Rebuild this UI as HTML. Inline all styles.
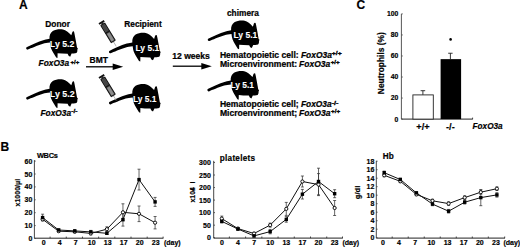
<!DOCTYPE html><html><head><meta charset="utf-8"><style>html,body{margin:0;padding:0;background:#fff;}svg{display:block;}text{font-family:"Liberation Sans", sans-serif;}</style></head><body>
<svg width="520" height="247" viewBox="0 0 520 247">
<rect width="520" height="247" fill="#fff"/>
<text x="18.9" y="8.6" font-size="12" font-weight="bold" font-style="normal" text-anchor="start" fill="#000"  stroke="#000" stroke-width="0.18">A</text>
<text x="45.21" y="27" font-size="8.6" font-weight="bold" font-style="normal" fill="#000" textLength="24.70" lengthAdjust="spacingAndGlyphs" stroke="#000" stroke-width="0.22">Donor</text>
<text x="124.32" y="27" font-size="8.6" font-weight="bold" font-style="normal" fill="#000" textLength="37.39" lengthAdjust="spacingAndGlyphs" stroke="#000" stroke-width="0.22">Recipient</text>
<text x="227.01" y="16" font-size="8.6" font-weight="bold" font-style="normal" fill="#000" textLength="31.88" lengthAdjust="spacingAndGlyphs" stroke="#000" stroke-width="0.22">chimera</text>
<path transform="translate(0 0)" d="M26.5 47.3 C31 45 38 41.8 44 40.0 C46.5 39.3 48 39.0 49.5 38.8 C49.2 35.4 50.4 32.6 52.8 30.9 C55.6 29.3 59.6 28.9 63.0 29.4 C65.8 30.0 68.6 32.4 71.3 35.3 L72.3 32.2 Q73.0 30.9 74.0 31.6 L74.6 34.2 L75.2 37.4 C75.7 39.8 76.1 42 76.4 44 L77.0 47.5 L77.9 48.4 L77.4 49.6 L77.3 51.5 L76.5 53.1 C74.5 53.6 72.8 53.6 71.6 53.6 L70.2 56.7 L68.6 55.8 L67.6 53.8 L62 53.6 L57.6 53.3 L57.5 57.9 L56.2 57.4 C54.4 54.5 52.4 51.4 51.0 48.2 C50.4 46.4 50.0 44.6 49.9 42.6 C47 42.8 45 43.2 43 43.8 C37 45.7 31 48.3 27.8 49.6 C26.4 50.1 25.7 48.1 26.5 47.3 Z" fill="#000"/>
<text x="49.89" y="46.9" font-size="8.6" font-weight="bold" font-style="normal" fill="#fff" textLength="24.48" lengthAdjust="spacingAndGlyphs" stroke="#fff" stroke-width="0.08">Ly 5.2</text>
<path transform="translate(0 50)" d="M26.5 47.3 C31 45 38 41.8 44 40.0 C46.5 39.3 48 39.0 49.5 38.8 C49.2 35.4 50.4 32.6 52.8 30.9 C55.6 29.3 59.6 28.9 63.0 29.4 C65.8 30.0 68.6 32.4 71.3 35.3 L72.3 32.2 Q73.0 30.9 74.0 31.6 L74.6 34.2 L75.2 37.4 C75.7 39.8 76.1 42 76.4 44 L77.0 47.5 L77.9 48.4 L77.4 49.6 L77.3 51.5 L76.5 53.1 C74.5 53.6 72.8 53.6 71.6 53.6 L70.2 56.7 L68.6 55.8 L67.6 53.8 L62 53.6 L57.6 53.3 L57.5 57.9 L56.2 57.4 C54.4 54.5 52.4 51.4 51.0 48.2 C50.4 46.4 50.0 44.6 49.9 42.6 C47 42.8 45 43.2 43 43.8 C37 45.7 31 48.3 27.8 49.6 C26.4 50.1 25.7 48.1 26.5 47.3 Z" fill="#000"/>
<text x="49.88" y="97.3" font-size="8.6" font-weight="bold" font-style="normal" fill="#fff" textLength="24.79" lengthAdjust="spacingAndGlyphs" stroke="#fff" stroke-width="0.08">Ly 5.2</text>
<path transform="translate(82.8 3.6)" d="M26.5 47.3 C31 45 38 41.8 44 40.0 C46.5 39.3 48 39.0 49.5 38.8 C49.2 35.4 50.4 32.6 52.8 30.9 C55.6 29.3 59.6 28.9 63.0 29.4 C65.8 30.0 68.6 32.4 71.3 35.3 L72.3 32.2 Q73.0 30.9 74.0 31.6 L74.6 34.2 L75.2 37.4 C75.7 39.8 76.1 42 76.4 44 L77.0 47.5 L77.9 48.4 L77.4 49.6 L77.3 51.5 L76.5 53.1 C74.5 53.6 72.8 53.6 71.6 53.6 L70.2 56.7 L68.6 55.8 L67.6 53.8 L62 53.6 L57.6 53.3 L57.5 57.9 L56.2 57.4 C54.4 54.5 52.4 51.4 51.0 48.2 C50.4 46.4 50.0 44.6 49.9 42.6 C47 42.8 45 43.2 43 43.8 C37 45.7 31 48.3 27.8 49.6 C26.4 50.1 25.7 48.1 26.5 47.3 Z" fill="#000"/>
<text x="135.41" y="50.7" font-size="8.6" font-weight="bold" font-style="normal" fill="#fff" textLength="23.86" lengthAdjust="spacingAndGlyphs" stroke="#fff" stroke-width="0.08">Ly 5.1</text>
<path transform="translate(82.8 54.8)" d="M26.5 47.3 C31 45 38 41.8 44 40.0 C46.5 39.3 48 39.0 49.5 38.8 C49.2 35.4 50.4 32.6 52.8 30.9 C55.6 29.3 59.6 28.9 63.0 29.4 C65.8 30.0 68.6 32.4 71.3 35.3 L72.3 32.2 Q73.0 30.9 74.0 31.6 L74.6 34.2 L75.2 37.4 C75.7 39.8 76.1 42 76.4 44 L77.0 47.5 L77.9 48.4 L77.4 49.6 L77.3 51.5 L76.5 53.1 C74.5 53.6 72.8 53.6 71.6 53.6 L70.2 56.7 L68.6 55.8 L67.6 53.8 L62 53.6 L57.6 53.3 L57.5 57.9 L56.2 57.4 C54.4 54.5 52.4 51.4 51.0 48.2 C50.4 46.4 50.0 44.6 49.9 42.6 C47 42.8 45 43.2 43 43.8 C37 45.7 31 48.3 27.8 49.6 C26.4 50.1 25.7 48.1 26.5 47.3 Z" fill="#000"/>
<text x="132.91" y="101.9" font-size="8.6" font-weight="bold" font-style="normal" fill="#fff" textLength="23.65" lengthAdjust="spacingAndGlyphs" stroke="#fff" stroke-width="0.08">Ly 5.1</text>
<path transform="translate(181.6 -8.6)" d="M26.5 47.3 C31 45 38 41.8 44 40.0 C46.5 39.3 48 39.0 49.5 38.8 C49.2 35.4 50.4 32.6 52.8 30.9 C55.6 29.3 59.6 28.9 63.0 29.4 C65.8 30.0 68.6 32.4 71.3 35.3 L72.3 32.2 Q73.0 30.9 74.0 31.6 L74.6 34.2 L75.2 37.4 C75.7 39.8 76.1 42 76.4 44 L77.0 47.5 L77.9 48.4 L77.4 49.6 L77.3 51.5 L76.5 53.1 C74.5 53.6 72.8 53.6 71.6 53.6 L70.2 56.7 L68.6 55.8 L67.6 53.8 L62 53.6 L57.6 53.3 L57.5 57.9 L56.2 57.4 C54.4 54.5 52.4 51.4 51.0 48.2 C50.4 46.4 50.0 44.6 49.9 42.6 C47 42.8 45 43.2 43 43.8 C37 45.7 31 48.3 27.8 49.6 C26.4 50.1 25.7 48.1 26.5 47.3 Z" fill="#000"/>
<text x="233.40" y="38.1" font-size="8.6" font-weight="bold" font-style="normal" fill="#fff" textLength="23.96" lengthAdjust="spacingAndGlyphs" stroke="#fff" stroke-width="0.08">Ly 5.1</text>
<path transform="translate(181.2 41.8)" d="M26.5 47.3 C31 45 38 41.8 44 40.0 C46.5 39.3 48 39.0 49.5 38.8 C49.2 35.4 50.4 32.6 52.8 30.9 C55.6 29.3 59.6 28.9 63.0 29.4 C65.8 30.0 68.6 32.4 71.3 35.3 L72.3 32.2 Q73.0 30.9 74.0 31.6 L74.6 34.2 L75.2 37.4 C75.7 39.8 76.1 42 76.4 44 L77.0 47.5 L77.9 48.4 L77.4 49.6 L77.3 51.5 L76.5 53.1 C74.5 53.6 72.8 53.6 71.6 53.6 L70.2 56.7 L68.6 55.8 L67.6 53.8 L62 53.6 L57.6 53.3 L57.5 57.9 L56.2 57.4 C54.4 54.5 52.4 51.4 51.0 48.2 C50.4 46.4 50.0 44.6 49.9 42.6 C47 42.8 45 43.2 43 43.8 C37 45.7 31 48.3 27.8 49.6 C26.4 50.1 25.7 48.1 26.5 47.3 Z" fill="#000"/>
<text x="230.41" y="88.1" font-size="8.6" font-weight="bold" font-style="normal" fill="#fff" textLength="23.65" lengthAdjust="spacingAndGlyphs" stroke="#fff" stroke-width="0.08">Ly 5.1</text>
<text x="38.61" y="65.9" font-size="8.6" font-weight="bold" font-style="italic" fill="#000" textLength="30.53" lengthAdjust="spacingAndGlyphs" stroke="#000" stroke-width="0.22">FoxO3a</text>
<text x="70.51" y="63.5" font-size="6.2" font-weight="bold" font-style="normal" fill="#000" textLength="8.75" lengthAdjust="spacingAndGlyphs" stroke="#000" stroke-width="0.35">+/+</text>
<text x="40.51" y="115.9" font-size="8.6" font-weight="bold" font-style="italic" fill="#000" textLength="30.53" lengthAdjust="spacingAndGlyphs" stroke="#000" stroke-width="0.22">FoxO3a</text>
<text x="71.39" y="113.3" font-size="6.2" font-weight="bold" font-style="normal" fill="#000" textLength="6.18" lengthAdjust="spacingAndGlyphs" stroke="#000" stroke-width="0.35">-/-</text>
<g transform="translate(101.6 22.4) rotate(58.5)">
<rect x="-0.9" y="-3.1" width="1.9" height="6.2" fill="#111"/>
<rect x="0.9" y="-1.3" width="1.5" height="2.6" fill="#222"/>
<rect x="2.4" y="-2.3" width="19.8" height="4.6" fill="#5a5a5a" stroke="#141414" stroke-width="1"/>
<rect x="3" y="-1.6" width="7.6" height="3.2" fill="#444"/>
<rect x="10.6" y="-2.3" width="1.6" height="4.6" fill="#181818"/>
<rect x="12.8" y="-1.4" width="8.6" height="2.8" fill="#8c8c8c"/>
<rect x="22.2" y="-0.9" width="0.9" height="1.8" fill="#333"/>
<rect x="23.1" y="-0.4" width="5.0" height="0.8" fill="#a8a8a8"/>
</g>
<g transform="translate(101.6 76.4) rotate(58.5)">
<rect x="-0.9" y="-3.1" width="1.9" height="6.2" fill="#111"/>
<rect x="0.9" y="-1.3" width="1.5" height="2.6" fill="#222"/>
<rect x="2.4" y="-2.3" width="19.8" height="4.6" fill="#5a5a5a" stroke="#141414" stroke-width="1"/>
<rect x="3" y="-1.6" width="7.6" height="3.2" fill="#444"/>
<rect x="10.6" y="-2.3" width="1.6" height="4.6" fill="#181818"/>
<rect x="12.8" y="-1.4" width="8.6" height="2.8" fill="#8c8c8c"/>
<rect x="22.2" y="-0.9" width="0.9" height="1.8" fill="#333"/>
<rect x="23.1" y="-0.4" width="5.0" height="0.8" fill="#a8a8a8"/>
</g>
<text x="89.61" y="63.1" font-size="8.6" font-weight="bold" font-style="normal" fill="#000" textLength="18.42" lengthAdjust="spacingAndGlyphs" stroke="#000" stroke-width="0.22">BMT</text>
<line x1="86" y1="66.8" x2="113.7" y2="66.8" stroke="#000" stroke-width="1.3"/>
<path d="M123.2 66.8 L112.7 63.599999999999994 L112.7 70.0 Z" fill="#000"/>
<text x="172.30" y="59.2" font-size="8.6" font-weight="bold" font-style="normal" fill="#000" textLength="37.57" lengthAdjust="spacingAndGlyphs" stroke="#000" stroke-width="0.22">12 weeks</text>
<line x1="172.8" y1="66.2" x2="202.3" y2="66.2" stroke="#000" stroke-width="1.3"/>
<path d="M211.8 66.2 L201.3 63.0 L201.3 69.4 Z" fill="#000"/>
<text x="219.90" y="58" font-size="8.6" font-weight="bold" font-style="normal" fill="#000" textLength="78.75" lengthAdjust="spacingAndGlyphs" stroke="#000" stroke-width="0.22">Hematopoietic cell:</text>
<text x="219.90" y="67" font-size="8.6" font-weight="bold" font-style="normal" fill="#000" textLength="77.31" lengthAdjust="spacingAndGlyphs" stroke="#000" stroke-width="0.22">Microenvironment:</text>
<text x="219.90" y="107" font-size="8.6" font-weight="bold" font-style="normal" fill="#000" textLength="78.75" lengthAdjust="spacingAndGlyphs" stroke="#000" stroke-width="0.22">Hematopoietic cell;</text>
<text x="219.90" y="116" font-size="8.6" font-weight="bold" font-style="normal" fill="#000" textLength="77.31" lengthAdjust="spacingAndGlyphs" stroke="#000" stroke-width="0.22">Microenvironment;</text>
<text x="300.90" y="58" font-size="8.6" font-weight="bold" font-style="italic" fill="#000" textLength="30.94" lengthAdjust="spacingAndGlyphs" stroke="#000" stroke-width="0.22">FoxO3a</text>
<text x="299.10" y="67" font-size="8.6" font-weight="bold" font-style="italic" fill="#000" textLength="31.14" lengthAdjust="spacingAndGlyphs" stroke="#000" stroke-width="0.22">FoxO3a</text>
<text x="300.91" y="107" font-size="8.6" font-weight="bold" font-style="italic" fill="#000" textLength="30.73" lengthAdjust="spacingAndGlyphs" stroke="#000" stroke-width="0.22">FoxO3a</text>
<text x="299.10" y="116" font-size="8.6" font-weight="bold" font-style="italic" fill="#000" textLength="31.44" lengthAdjust="spacingAndGlyphs" stroke="#000" stroke-width="0.22">FoxO3a</text>
<text x="331.87" y="54.8" font-size="6.2" font-weight="bold" font-style="normal" fill="#000" textLength="9.92" lengthAdjust="spacingAndGlyphs" stroke="#000" stroke-width="0.35">+/+</text>
<text x="330.70" y="64.3" font-size="6.2" font-weight="bold" font-style="normal" fill="#000" textLength="9.07" lengthAdjust="spacingAndGlyphs" stroke="#000" stroke-width="0.35">+/+</text>
<text x="331.67" y="105.2" font-size="6.2" font-weight="bold" font-style="normal" fill="#000" textLength="6.83" lengthAdjust="spacingAndGlyphs" stroke="#000" stroke-width="0.35">-/-</text>
<text x="331.00" y="113.2" font-size="6.2" font-weight="bold" font-style="normal" fill="#000" textLength="9.07" lengthAdjust="spacingAndGlyphs" stroke="#000" stroke-width="0.35">+/+</text>
<text x="356.6" y="8.6" font-size="12" font-weight="bold" font-style="normal" text-anchor="start" fill="#000"  stroke="#000" stroke-width="0.18">C</text>
<line x1="401.4" y1="13.899999999999991" x2="401.4" y2="119.1" stroke="#444" stroke-width="0.9"/>
<line x1="401.4" y1="119.1" x2="472.8" y2="119.1" stroke="#222" stroke-width="1"/>
<line x1="472.6" y1="119.1" x2="472.6" y2="117.6" stroke="#222" stroke-width="0.8"/>
<line x1="401.4" y1="119.10" x2="402.79999999999995" y2="119.10" stroke="#444" stroke-width="0.8"/>
<text x="398.3" y="121.50" font-size="6.8" font-weight="bold" font-style="normal" text-anchor="end" fill="#000"  stroke="#000" stroke-width="0.18">0</text>
<line x1="401.4" y1="98.06" x2="402.79999999999995" y2="98.06" stroke="#444" stroke-width="0.8"/>
<text x="398.3" y="100.46" font-size="6.8" font-weight="bold" font-style="normal" text-anchor="end" fill="#000"  stroke="#000" stroke-width="0.18">20</text>
<line x1="401.4" y1="77.02" x2="402.79999999999995" y2="77.02" stroke="#444" stroke-width="0.8"/>
<text x="398.3" y="79.42" font-size="6.8" font-weight="bold" font-style="normal" text-anchor="end" fill="#000"  stroke="#000" stroke-width="0.18">40</text>
<line x1="401.4" y1="55.98" x2="402.79999999999995" y2="55.98" stroke="#444" stroke-width="0.8"/>
<text x="398.3" y="58.38" font-size="6.8" font-weight="bold" font-style="normal" text-anchor="end" fill="#000"  stroke="#000" stroke-width="0.18">60</text>
<line x1="401.4" y1="34.94" x2="402.79999999999995" y2="34.94" stroke="#444" stroke-width="0.8"/>
<text x="398.3" y="37.34" font-size="6.8" font-weight="bold" font-style="normal" text-anchor="end" fill="#000"  stroke="#000" stroke-width="0.18">80</text>
<line x1="401.4" y1="13.90" x2="402.79999999999995" y2="13.90" stroke="#444" stroke-width="0.8"/>
<text x="398.3" y="16.30" font-size="6.8" font-weight="bold" font-style="normal" text-anchor="end" fill="#000"  stroke="#000" stroke-width="0.18">100</text>
<line x1="422.9" y1="90.70" x2="422.9" y2="94.90" stroke="#222" stroke-width="0.9"/>
<line x1="420.6" y1="90.70" x2="425.2" y2="90.70" stroke="#222" stroke-width="0.9"/>
<rect x="412.9" y="94.90" width="20.4" height="24.20" fill="#fff" stroke="#222" stroke-width="0.9"/>
<line x1="450.4" y1="53.24" x2="450.4" y2="59.14" stroke="#222" stroke-width="0.9"/>
<line x1="448.2" y1="53.24" x2="452.6" y2="53.24" stroke="#222" stroke-width="0.9"/>
<rect x="440.6" y="59.14" width="20.5" height="59.96" fill="#000"/>
<circle cx="450.6" cy="39.4" r="1.3" fill="#000"/>
<text x="423.0" y="130.2" font-size="9.2" font-weight="bold" font-style="normal" text-anchor="middle" fill="#000"  stroke="#000" stroke-width="0.18">+/+</text>
<text x="450.4" y="130.2" font-size="9.2" font-weight="bold" font-style="normal" text-anchor="middle" fill="#000"  stroke="#000" stroke-width="0.18">-/-</text>
<text x="472.6" y="129.1" font-size="8.2" font-weight="bold" font-style="italic" text-anchor="start" fill="#000"  stroke="#000" stroke-width="0.18">FoxO3a</text>
<text transform="translate(383.6 63.2) rotate(-90)" font-size="8.4" font-weight="bold" text-anchor="middle" stroke="#000" stroke-width="0.2">Neutrophils (%)</text>
<text x="0.6" y="150.7" font-size="12" font-weight="bold" font-style="normal" text-anchor="start" fill="#000"  stroke="#000" stroke-width="0.18">B</text>
<line x1="34.4" y1="160.1" x2="34.4" y2="238.2" stroke="#333" stroke-width="0.9"/>
<line x1="34.4" y1="238.2" x2="163.4" y2="238.2" stroke="#222" stroke-width="1"/>
<line x1="34.4" y1="238.50" x2="35.699999999999996" y2="238.50" stroke="#333" stroke-width="0.8"/>
<text x="32.40" y="241.00" font-size="7" font-weight="bold" font-style="normal" text-anchor="end" fill="#000"  stroke="#000" stroke-width="0.18">0</text>
<line x1="34.4" y1="225.60" x2="35.699999999999996" y2="225.60" stroke="#333" stroke-width="0.8"/>
<text x="32.40" y="228.10" font-size="7" font-weight="bold" font-style="normal" text-anchor="end" fill="#000"  stroke="#000" stroke-width="0.18">10</text>
<line x1="34.4" y1="212.70" x2="35.699999999999996" y2="212.70" stroke="#333" stroke-width="0.8"/>
<text x="32.40" y="215.20" font-size="7" font-weight="bold" font-style="normal" text-anchor="end" fill="#000"  stroke="#000" stroke-width="0.18">20</text>
<line x1="34.4" y1="199.80" x2="35.699999999999996" y2="199.80" stroke="#333" stroke-width="0.8"/>
<text x="32.40" y="202.30" font-size="7" font-weight="bold" font-style="normal" text-anchor="end" fill="#000"  stroke="#000" stroke-width="0.18">30</text>
<line x1="34.4" y1="186.90" x2="35.699999999999996" y2="186.90" stroke="#333" stroke-width="0.8"/>
<text x="32.40" y="189.40" font-size="7" font-weight="bold" font-style="normal" text-anchor="end" fill="#000"  stroke="#000" stroke-width="0.18">40</text>
<line x1="34.4" y1="174.00" x2="35.699999999999996" y2="174.00" stroke="#333" stroke-width="0.8"/>
<text x="32.40" y="176.50" font-size="7" font-weight="bold" font-style="normal" text-anchor="end" fill="#000"  stroke="#000" stroke-width="0.18">50</text>
<line x1="34.4" y1="161.10" x2="35.699999999999996" y2="161.10" stroke="#333" stroke-width="0.8"/>
<text x="32.40" y="163.60" font-size="7" font-weight="bold" font-style="normal" text-anchor="end" fill="#000"  stroke="#000" stroke-width="0.18">60</text>
<line x1="50.10" y1="238.2" x2="50.10" y2="236.6" stroke="#222" stroke-width="0.8"/>
<text x="43.70" y="245.1" font-size="7" font-weight="bold" font-style="normal" text-anchor="middle" fill="#000"  stroke="#000" stroke-width="0.18">0</text>
<line x1="66.28" y1="238.2" x2="66.28" y2="236.6" stroke="#222" stroke-width="0.8"/>
<text x="59.70" y="245.1" font-size="7" font-weight="bold" font-style="normal" text-anchor="middle" fill="#000"  stroke="#000" stroke-width="0.18">4</text>
<line x1="82.46" y1="238.2" x2="82.46" y2="236.6" stroke="#222" stroke-width="0.8"/>
<text x="75.70" y="245.1" font-size="7" font-weight="bold" font-style="normal" text-anchor="middle" fill="#000"  stroke="#000" stroke-width="0.18">7</text>
<line x1="98.64" y1="238.2" x2="98.64" y2="236.6" stroke="#222" stroke-width="0.8"/>
<text x="91.70" y="245.1" font-size="7" font-weight="bold" font-style="normal" text-anchor="middle" fill="#000"  stroke="#000" stroke-width="0.18">10</text>
<line x1="114.82" y1="238.2" x2="114.82" y2="236.6" stroke="#222" stroke-width="0.8"/>
<text x="107.70" y="245.1" font-size="7" font-weight="bold" font-style="normal" text-anchor="middle" fill="#000"  stroke="#000" stroke-width="0.18">13</text>
<line x1="131.00" y1="238.2" x2="131.00" y2="236.6" stroke="#222" stroke-width="0.8"/>
<text x="123.70" y="245.1" font-size="7" font-weight="bold" font-style="normal" text-anchor="middle" fill="#000"  stroke="#000" stroke-width="0.18">17</text>
<line x1="147.18" y1="238.2" x2="147.18" y2="236.6" stroke="#222" stroke-width="0.8"/>
<text x="139.70" y="245.1" font-size="7" font-weight="bold" font-style="normal" text-anchor="middle" fill="#000"  stroke="#000" stroke-width="0.18">20</text>
<line x1="163.10" y1="238.2" x2="163.10" y2="236.6" stroke="#222" stroke-width="0.8"/>
<text x="155.70" y="245.1" font-size="7" font-weight="bold" font-style="normal" text-anchor="middle" fill="#000"  stroke="#000" stroke-width="0.18">23</text>
<text x="163.9" y="245.1" font-size="7" font-weight="bold" font-style="normal" text-anchor="start" fill="#000"  stroke="#000" stroke-width="0.18">(day)</text>
<text x="36.9" y="157.5" font-size="7.4" font-weight="bold" font-style="normal" text-anchor="start" fill="#000" letter-spacing="-0.25" stroke="#000" stroke-width="0.18">WBCs</text>
<text transform="translate(20.1 192.6) rotate(-90)" font-size="7" font-weight="bold" text-anchor="middle" stroke="#000" stroke-width="0.15">x1000/μl</text>
<polyline points="42.60,219.3 58.67,231.2 74.74,231.8 90.81,233.4 106.88,229.2 122.95,212.3 139.02,213.8 155.09,222.7" fill="none" stroke="#111" stroke-width="1.0"/>
<polyline points="42.60,217.6 58.67,230.0 74.74,230.9 90.81,231.9 106.88,233.3 122.95,219.6 139.02,179.6 155.09,201.9" fill="none" stroke="#111" stroke-width="1.0"/>
<path d="M42.60 218.30V220.30M41.10 218.30H44.10M41.10 220.30H44.10" stroke="#333" stroke-width="0.75" fill="none"/>
<path d="M58.67 230.20V232.20M57.17 230.20H60.17M57.17 232.20H60.17" stroke="#333" stroke-width="0.75" fill="none"/>
<path d="M74.74 230.80V232.80M73.24 230.80H76.24M73.24 232.80H76.24" stroke="#333" stroke-width="0.75" fill="none"/>
<path d="M90.81 231.90V234.90M89.31 231.90H92.31M89.31 234.90H92.31" stroke="#333" stroke-width="0.75" fill="none"/>
<path d="M106.88 226.80V231.60M105.38 226.80H108.38M105.38 231.60H108.38" stroke="#333" stroke-width="0.75" fill="none"/>
<path d="M122.95 203.80V220.80M121.45 203.80H124.45M121.45 220.80H124.45" stroke="#333" stroke-width="0.75" fill="none"/>
<path d="M139.02 206.00V221.60M137.52 206.00H140.52M137.52 221.60H140.52" stroke="#333" stroke-width="0.75" fill="none"/>
<path d="M155.09 216.50V228.90M153.59 216.50H156.59M153.59 228.90H156.59" stroke="#333" stroke-width="0.75" fill="none"/>
<path d="M42.60 214.20V221.00M41.10 214.20H44.10M41.10 221.00H44.10" stroke="#333" stroke-width="0.75" fill="none"/>
<path d="M58.67 228.80V231.20M57.17 228.80H60.17M57.17 231.20H60.17" stroke="#333" stroke-width="0.75" fill="none"/>
<path d="M74.74 229.90V231.90M73.24 229.90H76.24M73.24 231.90H76.24" stroke="#333" stroke-width="0.75" fill="none"/>
<path d="M90.81 230.40V233.40M89.31 230.40H92.31M89.31 233.40H92.31" stroke="#333" stroke-width="0.75" fill="none"/>
<path d="M106.88 232.10V234.50M105.38 232.10H108.38M105.38 234.50H108.38" stroke="#333" stroke-width="0.75" fill="none"/>
<path d="M122.95 213.10V226.10M121.45 213.10H124.45M121.45 226.10H124.45" stroke="#333" stroke-width="0.75" fill="none"/>
<path d="M139.02 169.20V190.00M137.52 169.20H140.52M137.52 190.00H140.52" stroke="#333" stroke-width="0.75" fill="none"/>
<path d="M155.09 197.40V206.40M153.59 197.40H156.59M153.59 206.40H156.59" stroke="#333" stroke-width="0.75" fill="none"/>
<circle cx="42.60" cy="219.3" r="1.6" fill="#fff" stroke="#000" stroke-width="0.9"/>
<circle cx="58.67" cy="231.2" r="1.6" fill="#fff" stroke="#000" stroke-width="0.9"/>
<circle cx="74.74" cy="231.8" r="1.6" fill="#fff" stroke="#000" stroke-width="0.9"/>
<circle cx="90.81" cy="233.4" r="1.6" fill="#fff" stroke="#000" stroke-width="0.9"/>
<circle cx="106.88" cy="229.2" r="1.6" fill="#fff" stroke="#000" stroke-width="0.9"/>
<circle cx="122.95" cy="212.3" r="1.6" fill="#fff" stroke="#000" stroke-width="0.9"/>
<circle cx="139.02" cy="213.8" r="1.6" fill="#fff" stroke="#000" stroke-width="0.9"/>
<circle cx="155.09" cy="222.7" r="1.6" fill="#fff" stroke="#000" stroke-width="0.9"/>
<rect x="40.90" y="215.90" width="3.4" height="3.4" fill="#000"/>
<rect x="56.97" y="228.30" width="3.4" height="3.4" fill="#000"/>
<rect x="73.04" y="229.20" width="3.4" height="3.4" fill="#000"/>
<rect x="89.11" y="230.20" width="3.4" height="3.4" fill="#000"/>
<rect x="105.18" y="231.60" width="3.4" height="3.4" fill="#000"/>
<rect x="121.25" y="217.90" width="3.4" height="3.4" fill="#000"/>
<rect x="137.32" y="177.90" width="3.4" height="3.4" fill="#000"/>
<rect x="153.39" y="200.20" width="3.4" height="3.4" fill="#000"/>
<line x1="213.7" y1="160.8" x2="213.7" y2="238.1" stroke="#333" stroke-width="0.9"/>
<line x1="213.7" y1="238.1" x2="342.8" y2="238.1" stroke="#222" stroke-width="1"/>
<line x1="213.7" y1="237.70" x2="215.0" y2="237.70" stroke="#333" stroke-width="0.8"/>
<text x="210.80" y="240.20" font-size="7" font-weight="bold" font-style="normal" text-anchor="end" fill="#000"  stroke="#000" stroke-width="0.18">0</text>
<line x1="213.7" y1="225.16" x2="215.0" y2="225.16" stroke="#333" stroke-width="0.8"/>
<text x="210.80" y="227.66" font-size="7" font-weight="bold" font-style="normal" text-anchor="end" fill="#000"  stroke="#000" stroke-width="0.18">50</text>
<line x1="213.7" y1="212.63" x2="215.0" y2="212.63" stroke="#333" stroke-width="0.8"/>
<text x="210.80" y="215.13" font-size="7" font-weight="bold" font-style="normal" text-anchor="end" fill="#000"  stroke="#000" stroke-width="0.18">100</text>
<line x1="213.7" y1="200.09" x2="215.0" y2="200.09" stroke="#333" stroke-width="0.8"/>
<text x="210.80" y="202.59" font-size="7" font-weight="bold" font-style="normal" text-anchor="end" fill="#000"  stroke="#000" stroke-width="0.18">150</text>
<line x1="213.7" y1="187.56" x2="215.0" y2="187.56" stroke="#333" stroke-width="0.8"/>
<text x="210.80" y="190.06" font-size="7" font-weight="bold" font-style="normal" text-anchor="end" fill="#000"  stroke="#000" stroke-width="0.18">200</text>
<line x1="213.7" y1="175.02" x2="215.0" y2="175.02" stroke="#333" stroke-width="0.8"/>
<text x="210.80" y="177.52" font-size="7" font-weight="bold" font-style="normal" text-anchor="end" fill="#000"  stroke="#000" stroke-width="0.18">250</text>
<line x1="213.7" y1="162.49" x2="215.0" y2="162.49" stroke="#333" stroke-width="0.8"/>
<text x="210.80" y="164.99" font-size="7" font-weight="bold" font-style="normal" text-anchor="end" fill="#000"  stroke="#000" stroke-width="0.18">300</text>
<line x1="229.40" y1="238.1" x2="229.40" y2="236.5" stroke="#222" stroke-width="0.8"/>
<text x="221.90" y="245.1" font-size="7" font-weight="bold" font-style="normal" text-anchor="middle" fill="#000"  stroke="#000" stroke-width="0.18">0</text>
<line x1="245.62" y1="238.1" x2="245.62" y2="236.5" stroke="#222" stroke-width="0.8"/>
<text x="238.00" y="245.1" font-size="7" font-weight="bold" font-style="normal" text-anchor="middle" fill="#000"  stroke="#000" stroke-width="0.18">4</text>
<line x1="261.84" y1="238.1" x2="261.84" y2="236.5" stroke="#222" stroke-width="0.8"/>
<text x="254.10" y="245.1" font-size="7" font-weight="bold" font-style="normal" text-anchor="middle" fill="#000"  stroke="#000" stroke-width="0.18">7</text>
<line x1="278.06" y1="238.1" x2="278.06" y2="236.5" stroke="#222" stroke-width="0.8"/>
<text x="270.20" y="245.1" font-size="7" font-weight="bold" font-style="normal" text-anchor="middle" fill="#000"  stroke="#000" stroke-width="0.18">10</text>
<line x1="294.28" y1="238.1" x2="294.28" y2="236.5" stroke="#222" stroke-width="0.8"/>
<text x="286.30" y="245.1" font-size="7" font-weight="bold" font-style="normal" text-anchor="middle" fill="#000"  stroke="#000" stroke-width="0.18">13</text>
<line x1="310.50" y1="238.1" x2="310.50" y2="236.5" stroke="#222" stroke-width="0.8"/>
<text x="302.40" y="245.1" font-size="7" font-weight="bold" font-style="normal" text-anchor="middle" fill="#000"  stroke="#000" stroke-width="0.18">17</text>
<line x1="326.72" y1="238.1" x2="326.72" y2="236.5" stroke="#222" stroke-width="0.8"/>
<text x="318.50" y="245.1" font-size="7" font-weight="bold" font-style="normal" text-anchor="middle" fill="#000"  stroke="#000" stroke-width="0.18">20</text>
<line x1="342.50" y1="238.1" x2="342.50" y2="236.5" stroke="#222" stroke-width="0.8"/>
<text x="334.60" y="245.1" font-size="7" font-weight="bold" font-style="normal" text-anchor="middle" fill="#000"  stroke="#000" stroke-width="0.18">23</text>
<text x="342.4" y="245.1" font-size="7" font-weight="bold" font-style="normal" text-anchor="start" fill="#000"  stroke="#000" stroke-width="0.18">(day)</text>
<text x="219.8" y="160.8" font-size="8.2" font-weight="bold" font-style="normal" text-anchor="start" fill="#000" letter-spacing="0.25" stroke="#000" stroke-width="0.18">platelets</text>
<text transform="translate(194.6 202.6) rotate(-90)" font-size="7" font-weight="bold" stroke="#000" stroke-width="0.15">x10<tspan>4</tspan><tspan dx="-3.6">/</tspan><tspan dx="5.2">l</tspan></text>
<polyline points="221.80,218.6 237.92,228.6 254.04,233.5 270.16,225.1 286.28,208.9 302.40,181.5 318.52,184.6 334.64,208" fill="none" stroke="#111" stroke-width="1.0"/>
<polyline points="221.80,221.4 237.92,229.0 254.04,235.9 270.16,231.6 286.28,219.4 302.40,194.2 318.52,181.5 334.64,193.7" fill="none" stroke="#111" stroke-width="1.0"/>
<path d="M221.80 216.10V221.10M220.30 216.10H223.30M220.30 221.10H223.30" stroke="#333" stroke-width="0.75" fill="none"/>
<path d="M237.92 227.40V229.80M236.42 227.40H239.42M236.42 229.80H239.42" stroke="#333" stroke-width="0.75" fill="none"/>
<path d="M254.04 232.30V234.70M252.54 232.30H255.54M252.54 234.70H255.54" stroke="#333" stroke-width="0.75" fill="none"/>
<path d="M270.16 223.10V227.10M268.66 223.10H271.66M268.66 227.10H271.66" stroke="#333" stroke-width="0.75" fill="none"/>
<path d="M286.28 202.40V215.40M284.78 202.40H287.78M284.78 215.40H287.78" stroke="#333" stroke-width="0.75" fill="none"/>
<path d="M302.40 176.00V187.00M300.90 176.00H303.90M300.90 187.00H303.90" stroke="#333" stroke-width="0.75" fill="none"/>
<path d="M318.52 173.60V195.60M317.02 173.60H320.02M317.02 195.60H320.02" stroke="#333" stroke-width="0.75" fill="none"/>
<path d="M334.64 200.50V215.50M333.14 200.50H336.14M333.14 215.50H336.14" stroke="#333" stroke-width="0.75" fill="none"/>
<path d="M221.80 219.90V222.90M220.30 219.90H223.30M220.30 222.90H223.30" stroke="#333" stroke-width="0.75" fill="none"/>
<path d="M237.92 227.80V230.20M236.42 227.80H239.42M236.42 230.20H239.42" stroke="#333" stroke-width="0.75" fill="none"/>
<path d="M254.04 234.70V237.10M252.54 234.70H255.54M252.54 237.10H255.54" stroke="#333" stroke-width="0.75" fill="none"/>
<path d="M270.16 229.40V233.80M268.66 229.40H271.66M268.66 233.80H271.66" stroke="#333" stroke-width="0.75" fill="none"/>
<path d="M286.28 216.60V222.20M284.78 216.60H287.78M284.78 222.20H287.78" stroke="#333" stroke-width="0.75" fill="none"/>
<path d="M302.40 189.40V199.00M300.90 189.40H303.90M300.90 199.00H303.90" stroke="#333" stroke-width="0.75" fill="none"/>
<path d="M318.52 168.20V194.80M317.02 168.20H320.02M317.02 194.80H320.02" stroke="#333" stroke-width="0.75" fill="none"/>
<path d="M334.64 189.70V197.70M333.14 189.70H336.14M333.14 197.70H336.14" stroke="#333" stroke-width="0.75" fill="none"/>
<circle cx="221.80" cy="218.6" r="1.6" fill="#fff" stroke="#000" stroke-width="0.9"/>
<circle cx="237.92" cy="228.6" r="1.6" fill="#fff" stroke="#000" stroke-width="0.9"/>
<circle cx="254.04" cy="233.5" r="1.6" fill="#fff" stroke="#000" stroke-width="0.9"/>
<circle cx="270.16" cy="225.1" r="1.6" fill="#fff" stroke="#000" stroke-width="0.9"/>
<circle cx="286.28" cy="208.9" r="1.6" fill="#fff" stroke="#000" stroke-width="0.9"/>
<circle cx="302.40" cy="181.5" r="1.6" fill="#fff" stroke="#000" stroke-width="0.9"/>
<circle cx="318.52" cy="184.6" r="1.6" fill="#fff" stroke="#000" stroke-width="0.9"/>
<circle cx="334.64" cy="208" r="1.6" fill="#fff" stroke="#000" stroke-width="0.9"/>
<rect x="220.10" y="219.70" width="3.4" height="3.4" fill="#000"/>
<rect x="236.22" y="227.30" width="3.4" height="3.4" fill="#000"/>
<rect x="252.34" y="234.20" width="3.4" height="3.4" fill="#000"/>
<rect x="268.46" y="229.90" width="3.4" height="3.4" fill="#000"/>
<rect x="284.58" y="217.70" width="3.4" height="3.4" fill="#000"/>
<rect x="300.70" y="192.50" width="3.4" height="3.4" fill="#000"/>
<rect x="316.82" y="179.80" width="3.4" height="3.4" fill="#000"/>
<rect x="332.94" y="192.00" width="3.4" height="3.4" fill="#000"/>
<line x1="376.3" y1="160.8" x2="376.3" y2="238.1" stroke="#333" stroke-width="0.9"/>
<line x1="376.3" y1="238.1" x2="505.0" y2="238.1" stroke="#222" stroke-width="1"/>
<line x1="376.3" y1="237.70" x2="377.6" y2="237.70" stroke="#333" stroke-width="0.8"/>
<text x="374.30" y="240.20" font-size="7" font-weight="bold" font-style="normal" text-anchor="end" fill="#000"  stroke="#000" stroke-width="0.18">0</text>
<line x1="376.3" y1="229.20" x2="377.6" y2="229.20" stroke="#333" stroke-width="0.8"/>
<text x="374.30" y="231.70" font-size="7" font-weight="bold" font-style="normal" text-anchor="end" fill="#000"  stroke="#000" stroke-width="0.18">2</text>
<line x1="376.3" y1="220.70" x2="377.6" y2="220.70" stroke="#333" stroke-width="0.8"/>
<text x="374.30" y="223.20" font-size="7" font-weight="bold" font-style="normal" text-anchor="end" fill="#000"  stroke="#000" stroke-width="0.18">4</text>
<line x1="376.3" y1="212.20" x2="377.6" y2="212.20" stroke="#333" stroke-width="0.8"/>
<text x="374.30" y="214.70" font-size="7" font-weight="bold" font-style="normal" text-anchor="end" fill="#000"  stroke="#000" stroke-width="0.18">6</text>
<line x1="376.3" y1="203.70" x2="377.6" y2="203.70" stroke="#333" stroke-width="0.8"/>
<text x="374.30" y="206.20" font-size="7" font-weight="bold" font-style="normal" text-anchor="end" fill="#000"  stroke="#000" stroke-width="0.18">8</text>
<line x1="376.3" y1="195.20" x2="377.6" y2="195.20" stroke="#333" stroke-width="0.8"/>
<text x="374.30" y="197.70" font-size="7" font-weight="bold" font-style="normal" text-anchor="end" fill="#000"  stroke="#000" stroke-width="0.18">10</text>
<line x1="376.3" y1="186.70" x2="377.6" y2="186.70" stroke="#333" stroke-width="0.8"/>
<text x="374.30" y="189.20" font-size="7" font-weight="bold" font-style="normal" text-anchor="end" fill="#000"  stroke="#000" stroke-width="0.18">12</text>
<line x1="376.3" y1="178.20" x2="377.6" y2="178.20" stroke="#333" stroke-width="0.8"/>
<text x="374.30" y="180.70" font-size="7" font-weight="bold" font-style="normal" text-anchor="end" fill="#000"  stroke="#000" stroke-width="0.18">14</text>
<line x1="376.3" y1="169.70" x2="377.6" y2="169.70" stroke="#333" stroke-width="0.8"/>
<text x="374.30" y="172.20" font-size="7" font-weight="bold" font-style="normal" text-anchor="end" fill="#000"  stroke="#000" stroke-width="0.18">16</text>
<line x1="376.3" y1="161.20" x2="377.6" y2="161.20" stroke="#333" stroke-width="0.8"/>
<text x="374.30" y="163.70" font-size="7" font-weight="bold" font-style="normal" text-anchor="end" fill="#000"  stroke="#000" stroke-width="0.18">18</text>
<line x1="392.20" y1="238.1" x2="392.20" y2="236.5" stroke="#222" stroke-width="0.8"/>
<text x="382.90" y="245.1" font-size="7" font-weight="bold" font-style="normal" text-anchor="middle" fill="#000"  stroke="#000" stroke-width="0.18">0</text>
<line x1="408.22" y1="238.1" x2="408.22" y2="236.5" stroke="#222" stroke-width="0.8"/>
<text x="399.06" y="245.1" font-size="7" font-weight="bold" font-style="normal" text-anchor="middle" fill="#000"  stroke="#000" stroke-width="0.18">4</text>
<line x1="424.24" y1="238.1" x2="424.24" y2="236.5" stroke="#222" stroke-width="0.8"/>
<text x="415.22" y="245.1" font-size="7" font-weight="bold" font-style="normal" text-anchor="middle" fill="#000"  stroke="#000" stroke-width="0.18">7</text>
<line x1="440.26" y1="238.1" x2="440.26" y2="236.5" stroke="#222" stroke-width="0.8"/>
<text x="431.38" y="245.1" font-size="7" font-weight="bold" font-style="normal" text-anchor="middle" fill="#000"  stroke="#000" stroke-width="0.18">10</text>
<line x1="456.28" y1="238.1" x2="456.28" y2="236.5" stroke="#222" stroke-width="0.8"/>
<text x="447.54" y="245.1" font-size="7" font-weight="bold" font-style="normal" text-anchor="middle" fill="#000"  stroke="#000" stroke-width="0.18">13</text>
<line x1="472.30" y1="238.1" x2="472.30" y2="236.5" stroke="#222" stroke-width="0.8"/>
<text x="463.70" y="245.1" font-size="7" font-weight="bold" font-style="normal" text-anchor="middle" fill="#000"  stroke="#000" stroke-width="0.18">17</text>
<line x1="488.32" y1="238.1" x2="488.32" y2="236.5" stroke="#222" stroke-width="0.8"/>
<text x="479.86" y="245.1" font-size="7" font-weight="bold" font-style="normal" text-anchor="middle" fill="#000"  stroke="#000" stroke-width="0.18">20</text>
<line x1="504.70" y1="238.1" x2="504.70" y2="236.5" stroke="#222" stroke-width="0.8"/>
<text x="496.02" y="245.1" font-size="7" font-weight="bold" font-style="normal" text-anchor="middle" fill="#000"  stroke="#000" stroke-width="0.18">23</text>
<text x="503.4" y="245.1" font-size="7" font-weight="bold" font-style="normal" text-anchor="start" fill="#000"  stroke="#000" stroke-width="0.18">(day)</text>
<text x="382.8" y="158.6" font-size="8.2" font-weight="bold" font-style="normal" text-anchor="start" fill="#000" letter-spacing="0" stroke="#000" stroke-width="0.18">Hb</text>
<text transform="translate(359.6 192.5) rotate(-90)" font-size="7.6" font-weight="bold" text-anchor="middle" stroke="#000" stroke-width="0.15">g/dl</text>
<polyline points="384.20,175.3 400.30,181.3 416.40,194.4 432.50,200.8 448.60,203.6 464.70,197.6 480.80,192.2 496.90,188.7" fill="none" stroke="#111" stroke-width="1.0"/>
<polyline points="384.20,172.7 400.30,179.5 416.40,192.9 432.50,204.1 448.60,211.2 464.70,202.2 480.80,197.6 496.90,194.9" fill="none" stroke="#111" stroke-width="1.0"/>
<path d="M384.20 173.80V176.80M382.70 173.80H385.70M382.70 176.80H385.70" stroke="#333" stroke-width="0.75" fill="none"/>
<path d="M400.30 180.00V182.60M398.80 180.00H401.80M398.80 182.60H401.80" stroke="#333" stroke-width="0.75" fill="none"/>
<path d="M416.40 193.10V195.70M414.90 193.10H417.90M414.90 195.70H417.90" stroke="#333" stroke-width="0.75" fill="none"/>
<path d="M432.50 199.20V202.40M431.00 199.20H434.00M431.00 202.40H434.00" stroke="#333" stroke-width="0.75" fill="none"/>
<path d="M448.60 201.80V205.40M447.10 201.80H450.10M447.10 205.40H450.10" stroke="#333" stroke-width="0.75" fill="none"/>
<path d="M464.70 195.80V199.40M463.20 195.80H466.20M463.20 199.40H466.20" stroke="#333" stroke-width="0.75" fill="none"/>
<path d="M480.80 190.20V194.20M479.30 190.20H482.30M479.30 194.20H482.30" stroke="#333" stroke-width="0.75" fill="none"/>
<path d="M496.90 186.90V190.50M495.40 186.90H498.40M495.40 190.50H498.40" stroke="#333" stroke-width="0.75" fill="none"/>
<path d="M384.20 171.10V174.30M382.70 171.10H385.70M382.70 174.30H385.70" stroke="#333" stroke-width="0.75" fill="none"/>
<path d="M400.30 178.20V180.80M398.80 178.20H401.80M398.80 180.80H401.80" stroke="#333" stroke-width="0.75" fill="none"/>
<path d="M416.40 191.60V194.20M414.90 191.60H417.90M414.90 194.20H417.90" stroke="#333" stroke-width="0.75" fill="none"/>
<path d="M432.50 202.50V205.70M431.00 202.50H434.00M431.00 205.70H434.00" stroke="#333" stroke-width="0.75" fill="none"/>
<path d="M448.60 209.40V213.00M447.10 209.40H450.10M447.10 213.00H450.10" stroke="#333" stroke-width="0.75" fill="none"/>
<path d="M464.70 200.40V204.00M463.20 200.40H466.20M463.20 204.00H466.20" stroke="#333" stroke-width="0.75" fill="none"/>
<path d="M480.80 189.50V205.70M479.30 189.50H482.30M479.30 205.70H482.30" stroke="#333" stroke-width="0.75" fill="none"/>
<path d="M496.90 192.70V197.10M495.40 192.70H498.40M495.40 197.10H498.40" stroke="#333" stroke-width="0.75" fill="none"/>
<circle cx="384.20" cy="175.3" r="1.6" fill="#fff" stroke="#000" stroke-width="0.9"/>
<circle cx="400.30" cy="181.3" r="1.6" fill="#fff" stroke="#000" stroke-width="0.9"/>
<circle cx="416.40" cy="194.4" r="1.6" fill="#fff" stroke="#000" stroke-width="0.9"/>
<circle cx="432.50" cy="200.8" r="1.6" fill="#fff" stroke="#000" stroke-width="0.9"/>
<circle cx="448.60" cy="203.6" r="1.6" fill="#fff" stroke="#000" stroke-width="0.9"/>
<circle cx="464.70" cy="197.6" r="1.6" fill="#fff" stroke="#000" stroke-width="0.9"/>
<circle cx="480.80" cy="192.2" r="1.6" fill="#fff" stroke="#000" stroke-width="0.9"/>
<circle cx="496.90" cy="188.7" r="1.6" fill="#fff" stroke="#000" stroke-width="0.9"/>
<rect x="382.50" y="171.00" width="3.4" height="3.4" fill="#000"/>
<rect x="398.60" y="177.80" width="3.4" height="3.4" fill="#000"/>
<rect x="414.70" y="191.20" width="3.4" height="3.4" fill="#000"/>
<rect x="430.80" y="202.40" width="3.4" height="3.4" fill="#000"/>
<rect x="446.90" y="209.50" width="3.4" height="3.4" fill="#000"/>
<rect x="463.00" y="200.50" width="3.4" height="3.4" fill="#000"/>
<rect x="479.10" y="195.90" width="3.4" height="3.4" fill="#000"/>
<rect x="495.20" y="193.20" width="3.4" height="3.4" fill="#000"/>
</svg></body></html>
